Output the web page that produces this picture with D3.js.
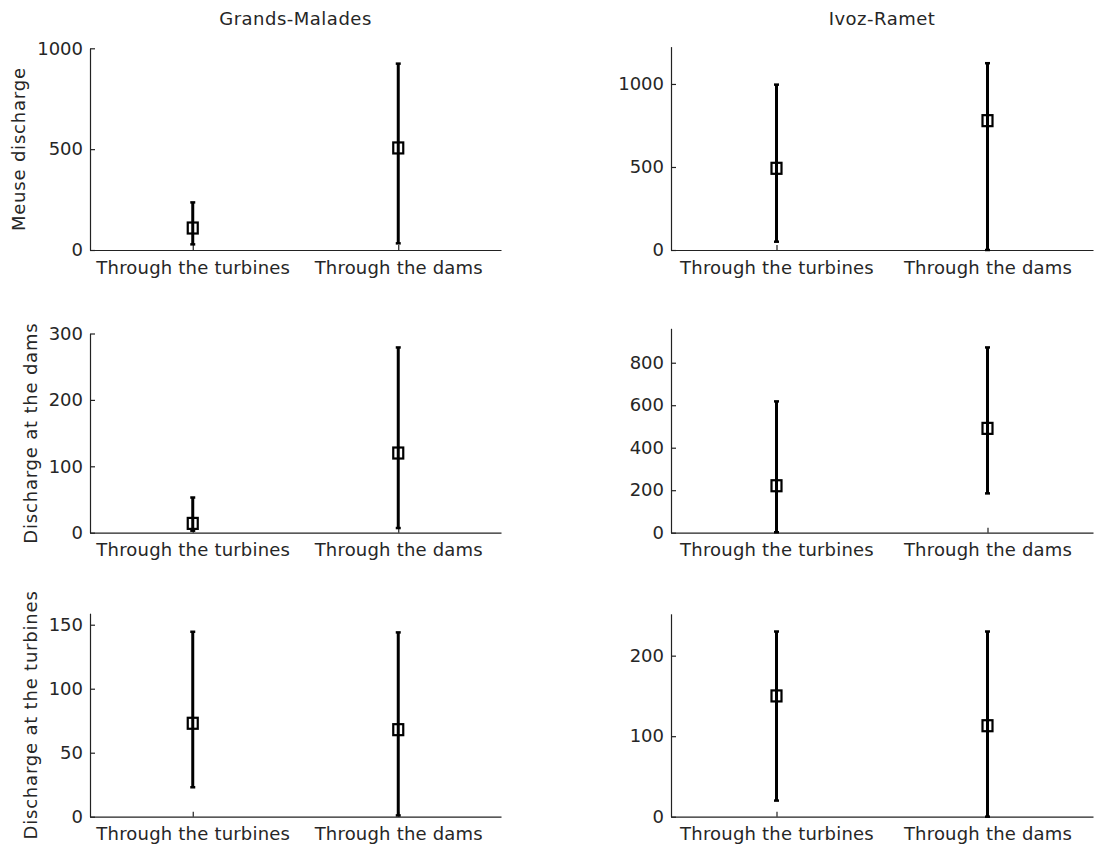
<!DOCTYPE html>
<html>
<head>
<meta charset="utf-8">
<script src="https://cdn.jsdelivr.net/npm/d3@7"></script>
<style>
  html, body { margin: 0; padding: 0; background: #fff; }
  svg { display: block; }
  text { font-family: "DejaVu Sans", sans-serif; fill: #262626; }
</style>
</head>
<body>
<svg id="chart" width="1103" height="852"></svg>
<script>
// ---------- data ----------
const categories = ["Through the turbines", "Through the dams"];
const stations = ["Grands-Malades", "Ivoz-Ramet"];
const variables = ["Meuse discharge", "Discharge at the dams", "Discharge at the turbines"];

// Grands-Malades
const gmMeuseMean = [109, 506];
const gmMeuseLow  = [28, 33];
const gmMeuseHigh = [236, 924];
const gmDamsMean  = [14, 120];
const gmDamsLow   = [3, 7];
const gmDamsHigh  = [53, 279];
const gmTurbMean  = [73, 68];
const gmTurbLow   = [23, 1];
const gmTurbHigh  = [144.5, 144];

// Ivoz-Ramet
const irMeuseMean = [492, 779];
const irMeuseLow  = [50, 0];
const irMeuseHigh = [996, 1125];
const irDamsMean  = [221, 491];
const irDamsLow   = [2, 185];
const irDamsHigh  = [618, 872];
const irTurbMean  = [150, 113];
const irTurbLow   = [20, 0];
const irTurbHigh  = [230, 230];

// y-axis domain maxima and tick values [row][col]
const yMax = [[1000, 1225], [300, 962], [159, 252]];
const yTicks = [
  [[0, 500, 1000], [0, 500, 1000]],
  [[0, 100, 200, 300], [0, 200, 400, 600, 800]],
  [[0, 50, 100, 150], [0, 100, 200]]
];

const panelData = [
  [{mean: gmMeuseMean, low: gmMeuseLow, high: gmMeuseHigh}, {mean: irMeuseMean, low: irMeuseLow, high: irMeuseHigh}],
  [{mean: gmDamsMean, low: gmDamsLow, high: gmDamsHigh}, {mean: irDamsMean, low: irDamsLow, high: irDamsHigh}],
  [{mean: gmTurbMean, low: gmTurbLow, high: gmTurbHigh}, {mean: irTurbMean, low: irTurbLow, high: irTurbHigh}]
];

// ---------- layout ----------
const colX = [[90, 501], [671, 1093]];
const rowBottom = [250, 532.7, 816.7];
const panelTop = [[48.3, 46.6], [333.5, 328.3], [613.2, 613.8]];
const ylabelX = [19, 31, 31];
const fontSize = 18;

const svg = d3.select("#chart");

// column titles
stations.forEach((s, c) => {
  svg.append("text")
    .attr("x", (colX[c][0] + colX[c][1]) / 2)
    .attr("y", 25)
    .attr("text-anchor", "middle")
    .style("font-size", "18px")
    .style("letter-spacing", "0.5px")
    .text(s);
});

for (let r = 0; r < 3; r++) {
  for (let c = 0; c < 2; c++) {
    const d = panelData[r][c];
    const x = d3.scalePoint().domain(categories).range(colX[c]).padding(0.5);
    const y = d3.scaleLinear().domain([0, yMax[r][c]]).range([rowBottom[r], panelTop[r][c]]);
    const g = svg.append("g");

    const xAxis = g.append("g")
      .attr("transform", `translate(0,${rowBottom[r]})`)
      .call(d3.axisBottom(x).tickSize(-5).tickSizeOuter(0).tickPadding(11));
    const yAxis = g.append("g")
      .attr("transform", `translate(${colX[c][0]},0)`)
      .call(d3.axisLeft(y).tickValues(yTicks[r][c]).tickSize(-5).tickSizeOuter(0).tickPadding(7).tickFormat(d3.format("d")));
    [xAxis, yAxis].forEach(a => {
      a.selectAll("path, line").attr("stroke", "#222").attr("stroke-width", 1.2);
      a.selectAll("text").style("font-size", fontSize + "px").attr("fill", "#262626").style("font-family", "DejaVu Sans, sans-serif");
    });
    xAxis.selectAll("text").style("letter-spacing", "0.2px");

    const pts = categories.map((cat, i) => ({cat, mean: d.mean[i], low: d.low[i], high: d.high[i]}));

    // error bars
    g.selectAll(".eb").data(pts).enter().append("line")
      .attr("x1", p => x(p.cat)).attr("x2", p => x(p.cat))
      .attr("y1", p => y(p.low)).attr("y2", p => y(p.high))
      .attr("stroke", "#000").attr("stroke-width", 3);
    ["low", "high"].forEach(k => {
      g.selectAll(".cap-" + k).data(pts).enter().append("line")
        .attr("x1", p => x(p.cat) - 2.5).attr("x2", p => x(p.cat) + 2.5)
        .attr("y1", p => y(p[k])).attr("y2", p => y(p[k]))
        .attr("stroke", "#000").attr("stroke-width", 2.5);
    });
    // square markers
    g.selectAll(".mk").data(pts).enter().append("rect")
      .attr("x", p => x(p.cat) - 5).attr("y", p => y(p.mean) - 5.5)
      .attr("width", 10).attr("height", 11)
      .attr("fill", "none").attr("stroke", "#000").attr("stroke-width", 2.2);

    if (c === 0) {
      const cy = (rowBottom[r] + panelTop[r][c]) / 2;
      svg.append("text")
        .attr("transform", `translate(${ylabelX[r]},${cy}) rotate(-90)`)
        .attr("text-anchor", "middle")
        .attr("dy", "0.35em")
        .style("font-size", fontSize + "px")
        .style("letter-spacing", "0.8px")
        .text(variables[r]);
    }
  }
}
</script>
</body>
</html>
